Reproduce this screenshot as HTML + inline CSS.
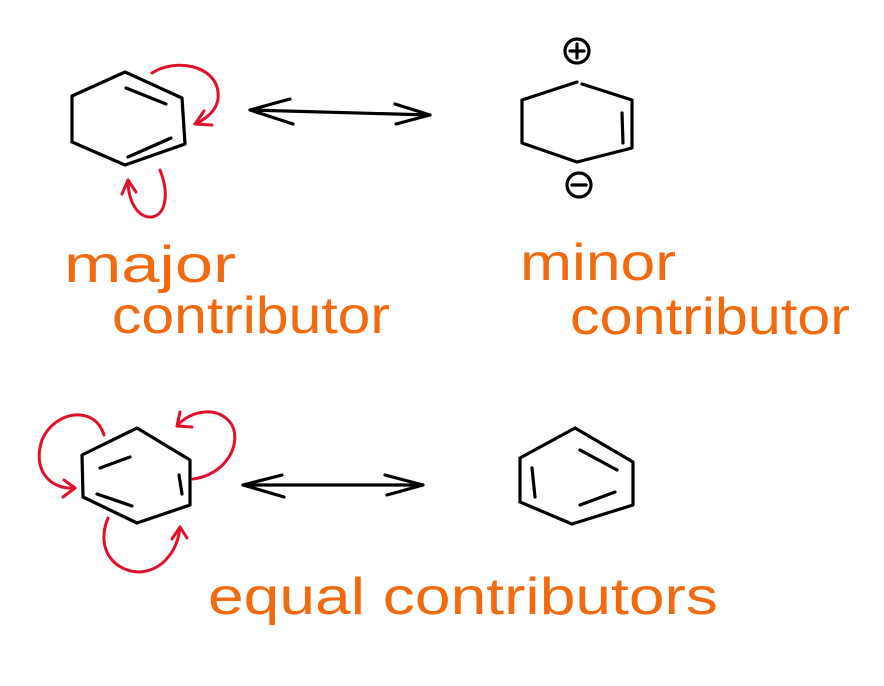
<!DOCTYPE html>
<html><head><meta charset="utf-8"><style>html,body{margin:0;padding:0;background:#fff}svg{display:block}</style></head>
<body>
<svg width="884" height="686" viewBox="0 0 884 686" xmlns="http://www.w3.org/2000/svg">
<g fill="none" stroke="#000" stroke-width="3.2" stroke-linecap="round" stroke-linejoin="round">
<path d="M125,72 L72,96 L72,142 L125,165 L185,144 L182,98 Z"/>
<path d="M126,88 L166,104 M128,157 L171,138"/>
<path d="M250,110 L430,115 M250,110 L290,99 M250,110 L293,124 M430,115 L395,104 M430,115 L396,124"/>
<path d="M577,82 L522,100 M522,100 L522,143 L577,162 L632,148 L632,100 L582,84"/>
<path d="M622,113 L623,143"/>
<circle cx="577" cy="51" r="12"/><path d="M570,51 L584,51 M577,44 L577,58"/>
<circle cx="579" cy="185" r="12"/><path d="M572,185 L586,185"/>
<path d="M137,428 L82,455 L83,497 L137,523 L190,505 L190,460 Z"/>
<path d="M100,468 L130,457 M97,494 L132,506 M179,475 L182,494"/>
<path d="M243,485 L423,485 M243,485 L282,475 M243,485 L284,497 M423,485 L385,475 M423,485 L387,495"/>
<path d="M575,428 L520,458 L520,502 L572,524 L633,505 L633,462 Z"/>
<path d="M532,468 L535,497 M580,450 L617,470 M580,505 L615,492"/>
</g>
<g fill="none" stroke="#e0102a" stroke-width="3" stroke-linecap="round" stroke-linejoin="round">
<path d="M152,73 C175,58 215,65 218,92 C220,108 208,118 195,124"/>
<path d="M195,124 L204,111 M195,124 L212,125"/>
<path d="M160,170 C170,195 165,215 152,217 C138,218 128,202 128,180"/>
<path d="M128,180 L122,194 M128,180 L136,192"/>
<path d="M104,435 C95,405 55,410 42,440 C32,470 50,490 75,488"/>
<path d="M75,488 L64,480 M75,488 L63,497"/>
<path d="M193,479 C225,475 242,445 232,425 C220,405 190,410 177,426"/>
<path d="M177,426 L180,412 M177,426 L192,427"/>
<path d="M108,518 C95,550 115,572 140,572 C165,570 178,548 180,527"/>
<path d="M180,527 L172,539 M180,527 L187,538"/>
</g>
<g fill="#f26a10" font-family="'Liberation Sans',sans-serif" font-size="52">
<text x="64" y="282" textLength="172" lengthAdjust="spacingAndGlyphs">major</text>
<text x="112" y="333" textLength="278" lengthAdjust="spacingAndGlyphs">contributor</text>
<text x="520" y="280" textLength="156" lengthAdjust="spacingAndGlyphs">minor</text>
<text x="570" y="334" textLength="280" lengthAdjust="spacingAndGlyphs">contributor</text>
<text x="208" y="614" textLength="510" lengthAdjust="spacingAndGlyphs">equal contributors</text>
</g>
</svg>
</body></html>
